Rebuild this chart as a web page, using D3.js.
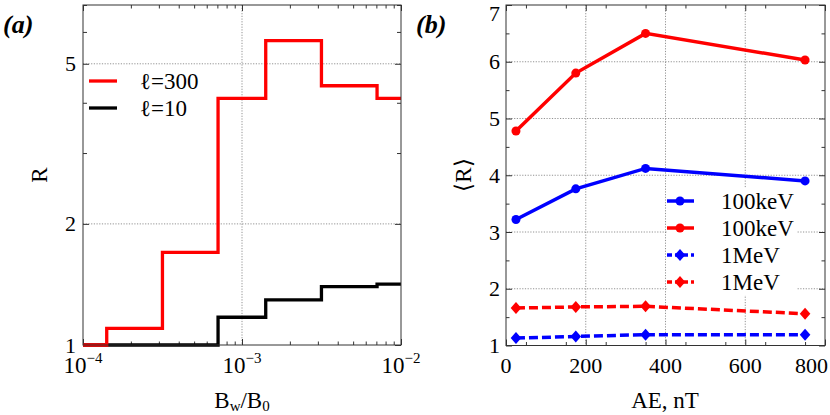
<!DOCTYPE html>
<html lang="en">
<head>
<meta charset="UTF-8">
<title>R vs Bw/B0 and AE</title>
<script src="https://d3js.org/d3.v7.min.js"></script>
<style>
  body { margin: 0; background: #fff; }
  svg text { font-family: "Liberation Serif", "Times New Roman", Tinos, Times, serif; fill: #000; }
  .frame { fill: none; stroke: #333; stroke-width: 1; }
  .grid line { stroke: #777; stroke-width: 0.8; stroke-dasharray: 1.2,1.5; }
  .tick line { stroke: #333; }
  .domain { display: none; }
</style>
</head>
<body>
<script>
  // ---- panel (a) data: step curves of R over Bw/B0 bins
  const binEdges = [1e-4, 1.41e-4, 3.16e-4, 7.07e-4, 1.41e-3, 3.16e-3, 7.07e-3, 1e-2];
  const rEll300 = [1.0, 1.10, 1.70, 4.10, 5.71, 4.41, 4.10];
  const rEll10 = [1.0, 1.0, 1.0, 1.172, 1.294, 1.397, 1.416];
  const aTicksX = [1e-4, 1e-3, 1e-2];
  const aTicksYLabel = [1, 2, 5];

  // ---- panel (b) data: <R> vs AE
  const aeValues = [25, 175, 350, 750];
  const keVBlue = [3.22, 3.76, 4.12, 3.90];
  const keVRed = [4.78, 5.80, 6.50, 6.03];
  const meVBlue = [1.13, 1.16, 1.19, 1.19];
  const meVRed = [1.66, 1.68, 1.69, 1.56];
  const bTicksX = [0, 200, 400, 600, 800];
  const bTicksY = [1, 2, 3, 4, 5, 6, 7];

  const W = 830, H = 415;
  const svg = d3.select("body").append("svg").attr("width", W).attr("height", H);

  const A = {left: 83, right: 401, top: 5, bottom: 345};
  const B = {left: 506, right: 825, top: 5, bottom: 345.5};
  const tickFont = 22, legFont = 23, titleFont = 23;

  // ================= panel (a)
  const xa = d3.scaleLog().domain([1e-4, 1e-2]).range([A.left, A.right]);
  const ya = d3.scaleLog().domain([1, 7]).range([A.bottom, A.top]);

  const ga = svg.append("g");
  // grid
  ga.append("g").attr("class", "grid").selectAll("line").data([1e-3]).join("line")
    .attr("x1", d => xa(d)).attr("x2", d => xa(d)).attr("y1", A.top).attr("y2", A.bottom);
  ga.append("g").attr("class", "grid").selectAll("line").data([2, 5]).join("line")
    .attr("y1", d => ya(d)).attr("y2", d => ya(d)).attr("x1", A.left).attr("x2", A.right);

  const minorX = [];
  for (let e = -4; e < -2; e++) for (let m = 2; m <= 9; m++) minorX.push(m * Math.pow(10, e));
  const minorYa = [3, 4, 6, 7];

  function ticksBoth(g, scale, vals, size, orient, box) {
    if (orient === "x") {
      g.append("g").attr("transform", `translate(0,${box.bottom})`)
        .call(d3.axisBottom(scale).tickValues(vals).tickSize(-size).tickFormat(""));
      g.append("g").attr("transform", `translate(0,${box.top})`)
        .call(d3.axisTop(scale).tickValues(vals).tickSize(-size).tickFormat(""));
    } else {
      g.append("g").attr("transform", `translate(${box.left},0)`)
        .call(d3.axisLeft(scale).tickValues(vals).tickSize(-size).tickFormat(""));
      g.append("g").attr("transform", `translate(${box.right},0)`)
        .call(d3.axisRight(scale).tickValues(vals).tickSize(-size).tickFormat(""));
    }
  }
  ticksBoth(ga, xa, aTicksX, 6, "x", A);
  ticksBoth(ga, xa, minorX, 3.5, "x", A);
  ticksBoth(ga, ya, [1, 2, 5], 6, "y", A);
  ticksBoth(ga, ya, minorYa, 4, "y", A);

  // curves
  const stepLine = d3.line().x(d => xa(d[0])).y(d => ya(d[1])).curve(d3.curveStepAfter);
  function stepPts(vals) {
    const p = vals.map((v, i) => [binEdges[i], v]);
    p.push([binEdges[binEdges.length - 1], vals[vals.length - 1]]);
    return p;
  }
  ga.append("path").attr("d", stepLine(stepPts(rEll10)))
    .attr("fill", "none").attr("stroke", "#000").attr("stroke-width", 3.3);
  ga.append("path").attr("d", stepLine(stepPts(rEll300)))
    .attr("fill", "none").attr("stroke", "#ff0000").attr("stroke-width", 3.3);

  ga.append("rect").attr("class", "frame")
    .attr("x", A.left).attr("y", A.top).attr("width", A.right - A.left).attr("height", A.bottom - A.top);

  // tick labels
  ga.selectAll("text.ylab").data(aTicksYLabel).join("text")
    .attr("x", 76).attr("y", d => ya(d) + 7.5)
    .attr("text-anchor", "end").attr("font-size", tickFont).text(d => d);
  const xl = ga.selectAll("text.xlab").data(aTicksX).join("text")
    .attr("x", d => xa(d)).attr("y", 373)
    .attr("text-anchor", "middle").attr("font-size", 23);
  xl.append("tspan").text("10");
  xl.append("tspan").attr("dy", -10).attr("font-size", 15).text(d => "\u2212" + Math.round(-Math.log10(d)));

  // legend (a)
  const legA = [{label: "\u2113=300", color: "#ff0000", y: 81}, {label: "\u2113=10", color: "#000", y: 108}];
  legA.forEach(l => {
    ga.append("line").attr("x1", 89).attr("x2", 117).attr("y1", l.y).attr("y2", l.y)
      .attr("stroke", l.color).attr("stroke-width", 3.3);
    ga.append("text").attr("x", 140).attr("y", l.y + 8).attr("font-size", legFont).text(l.label);
  });

  // titles
  ga.append("text").attr("transform", "translate(47,175) rotate(-90)")
    .attr("text-anchor", "middle").attr("font-size", titleFont).text("R");
  const xt = ga.append("text").attr("x", 242).attr("y", 408).attr("text-anchor", "middle").attr("font-size", titleFont);
  xt.append("tspan").text("B");
  xt.append("tspan").attr("font-size", 15).attr("dy", 3).text("w");
  xt.append("tspan").attr("dy", -3).text("/B");
  xt.append("tspan").attr("font-size", 15).attr("dy", 3).text("0");
  ga.append("text").attr("x", 3).attr("y", 33).attr("font-size", 26)
    .attr("font-weight", "bold").attr("font-style", "italic").text("(a)");

  // ================= panel (b)
  const xb = d3.scaleLinear().domain([0, 800]).range([B.left, B.right]);
  const yb = d3.scaleLinear().domain([1, 7]).range([B.bottom, B.top]);
  const gb = svg.append("g");

  gb.append("g").attr("class", "grid").selectAll("line").data([200, 400, 600]).join("line")
    .attr("x1", d => xb(d)).attr("x2", d => xb(d)).attr("y1", B.top).attr("y2", B.bottom);
  gb.append("g").attr("class", "grid").selectAll("line").data([2, 3, 4, 5, 6]).join("line")
    .attr("y1", d => yb(d)).attr("y2", d => yb(d)).attr("x1", B.left).attr("x2", B.right);

  ticksBoth(gb, xb, bTicksX, 6, "x", B);
  ticksBoth(gb, xb, d3.range(50, 800, 100), 3.5, "x", B);
  ticksBoth(gb, yb, bTicksY, 6, "y", B);
  ticksBoth(gb, yb, d3.range(1.5, 7, 1), 3.5, "y", B);

  // legend background (drawn under curves, over grid)
  gb.append("rect").attr("x", 667).attr("y", 188).attr("width", 130).attr("height", 107).attr("fill", "#fff");

  const lineB = d3.line().x((d, i) => xb(aeValues[i])).y(d => yb(d));
  const diamond = "M0,-6L5.3,0L0,6L-5.3,0Z";
  const series = [
    {vals: keVBlue, color: "#0000ff", dash: null, mark: "circle", label: "100keV"},
    {vals: keVRed, color: "#ff0000", dash: null, mark: "circle", label: "100keV"},
    {vals: meVBlue, color: "#0000ff", dash: "9,4", mark: "diamond", label: "1MeV"},
    {vals: meVRed, color: "#ff0000", dash: "9,4", mark: "diamond", label: "1MeV"}
  ];
  function marker(g, s, cx, cy) {
    if (s.mark === "circle") g.append("circle").attr("cx", cx).attr("cy", cy).attr("r", 4.5).attr("fill", s.color);
    else g.append("path").attr("d", diamond).attr("transform", `translate(${cx},${cy})`).attr("fill", s.color);
  }
  series.forEach(s => {
    gb.append("path").attr("d", lineB(s.vals)).attr("fill", "none")
      .attr("stroke", s.color).attr("stroke-width", 3.5).attr("stroke-dasharray", s.dash);
    s.vals.forEach((v, i) => marker(gb, s, xb(aeValues[i]), yb(v)));
  });

  // legend (b)
  const legY = [201, 228, 255, 282];
  series.forEach((s, i) => {
    gb.append("line").attr("x1", 667).attr("x2", 694).attr("y1", legY[i]).attr("y2", legY[i])
      .attr("stroke", s.color).attr("stroke-width", 3.5).attr("stroke-dasharray", s.dash ? "5,3" : null);
    marker(gb, s, 680, legY[i]);
    gb.append("text").attr("x", 721).attr("y", legY[i] + 7.5).attr("font-size", legFont).text(s.label);
  });

  gb.append("rect").attr("class", "frame")
    .attr("x", B.left).attr("y", B.top).attr("width", B.right - B.left).attr("height", B.bottom - B.top);

  gb.selectAll("text.ylab").data(bTicksY).join("text")
    .attr("x", 500).attr("y", d => Math.max(yb(d), B.top + 8) + 7.5)
    .attr("text-anchor", "end").attr("font-size", tickFont).text(d => d);
  gb.selectAll("text.xlab").data(bTicksX).join("text")
    .attr("x", d => xb(d)).attr("y", 373)
    .attr("text-anchor", "middle").attr("font-size", tickFont).text(d => d)
    .each(function() {
      // keep the last label inside the page, as in the original
      const bb = this.getBBox();
      if (bb.x + bb.width > W - 2) d3.select(this).attr("x", +d3.select(this).attr("x") - (bb.x + bb.width - (W - 2)));
    });

  gb.append("text").attr("transform", "translate(471,175) rotate(-90)")
    .attr("text-anchor", "middle").attr("font-size", titleFont).text("\u27E8R\u27E9");
  gb.append("text").attr("x", 665).attr("y", 408).attr("text-anchor", "middle").attr("font-size", titleFont).text("AE, nT");
  gb.append("text").attr("x", 416).attr("y", 33).attr("font-size", 26)
    .attr("font-weight", "bold").attr("font-style", "italic").text("(b)");
</script>
</body>
</html>
